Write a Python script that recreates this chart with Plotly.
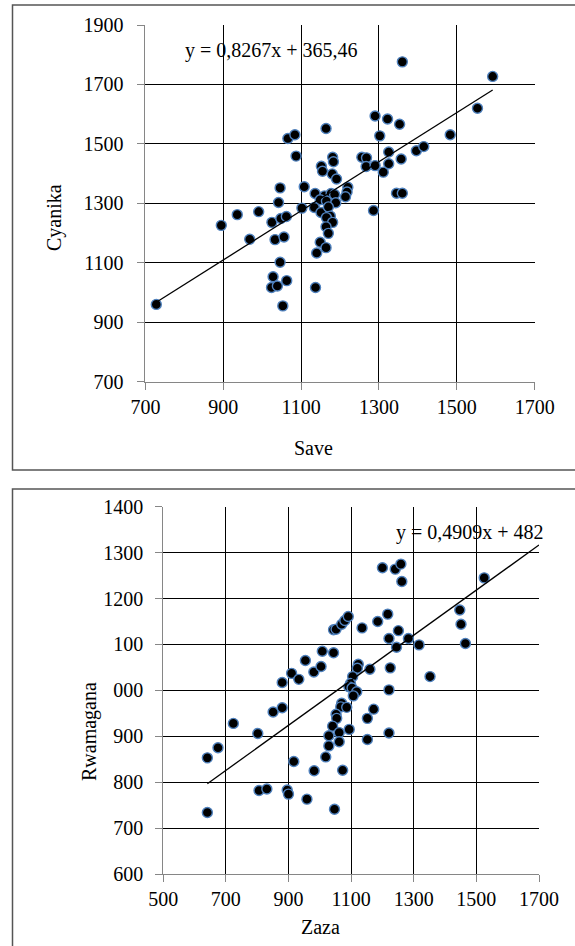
import plotly.graph_objects as go

# ---------------- data ----------------
save_x = [728, 895, 936, 991, 968, 1025, 1033, 1042, 1046, 1048, 1062, 1056, 1046, 1028, 1024,
          1039, 1063, 1053, 1066, 1084, 1087, 1108, 1102, 1164, 1152, 1155, 1181, 1183, 1180, 1191,
          1136, 1160, 1177, 1186, 1149, 1165, 1189, 1134, 1151, 1170, 1175, 1165, 1181, 1164, 1170,
          1149, 1164, 1140, 1137, 1220, 1218, 1214, 1256, 1268, 1267, 1290, 1311, 1325, 1325, 1290,
          1322, 1302, 1353, 1357, 1345, 1360, 1286, 1360, 1396, 1415, 1483, 1553, 1592]
cyanika_y = [960, 1226, 1262, 1272, 1179, 1236, 1178, 1303, 1352, 1249, 1256, 1187, 1102, 1053, 1017,
             1022, 1040, 955, 1518, 1531, 1459, 1356, 1284, 1552, 1425, 1408, 1455, 1440, 1399, 1382,
             1333, 1325, 1333, 1330, 1312, 1308, 1302, 1286, 1269, 1288, 1257, 1252, 1236, 1221, 1199,
             1169, 1151, 1133, 1017, 1354, 1338, 1322, 1455, 1453, 1424, 1427, 1405, 1433, 1473, 1594,
             1584, 1527, 1566, 1449, 1334, 1334, 1276, 1776, 1477, 1491, 1531, 1620, 1727]

zaza_x = [641, 641, 675, 724, 802, 806, 831, 851, 880, 880, 910, 933, 896, 900, 917, 954, 981, 1004,
          1008, 1044, 982, 959, 1047, 1044, 1052, 1070, 1080, 1091, 1135, 1185, 1217, 1200, 1241, 1259,
          1262, 1221, 1251, 1245, 1283, 1317, 1352, 1160, 1225, 1221, 1172, 1152, 1152, 1221, 1447, 1451,
          1465, 1525, 1123, 1120, 1105, 1098, 1093, 1103, 1118, 1107, 1070, 1067, 1086, 1052, 1054, 1041,
          1029, 1062, 1094, 1029, 1062, 1019, 1073]
rwamagana_y = [853, 734, 875, 928, 906, 782, 785, 953, 962, 1017, 1037, 1024, 783, 774, 845, 1065, 1040,
               1052, 1085, 1082, 825, 763, 741, 1132, 1133, 1144, 1152, 1161, 1136, 1150, 1166, 1267, 1264,
               1275, 1237, 1113, 1130, 1094, 1113, 1099, 1030, 1046, 1049, 1001, 959, 939, 893, 907, 1175,
               1144, 1102, 1245, 1057, 1048, 1030, 1015, 1008, 1005, 997, 988, 972, 964, 963, 948, 939, 922,
               901, 908, 915, 879, 888, 855, 826]

# trend lines (from the equations printed on the chart)
top_slope, top_intercept = 0.8267, 365.46
top_trend_x = [728, 1592]
bot_slope, bot_intercept = 0.4909, 482
bot_trend_x = [641, 1700]

top_x_ticks = [700, 900, 1100, 1300, 1500, 1700]
top_y_ticks = [700, 900, 1100, 1300, 1500, 1700, 1900]
bot_x_ticks = [500, 700, 900, 1100, 1300, 1500, 1700]
bot_y_ticks = [600, 700, 800, 900, 1000, 1100, 1200, 1300, 1400]
bot_y_labels = ["600", "700", "800", "900", "000", "100", "1200", "1300", "1400"]

# ---------------- figure ----------------
W, H = 575, 946
FONT = "Liberation Serif, Times New Roman, serif"
FS = 20

def px_x(v):
    return v / W

def px_y(v):
    return 1 - v / H

marker = dict(size=10, color="black", line=dict(color="#4f81bd", width=1.4))

fig = go.Figure()
fig.add_trace(go.Scatter(x=save_x, y=cyanika_y, mode="markers", marker=marker,
                         xaxis="x", yaxis="y", showlegend=False))
fig.add_trace(go.Scatter(x=top_trend_x, y=[top_slope * v + top_intercept for v in top_trend_x],
                         mode="lines", line=dict(color="black", width=1.3),
                         xaxis="x", yaxis="y", showlegend=False))
fig.add_trace(go.Scatter(x=zaza_x, y=rwamagana_y, mode="markers", marker=marker,
                         xaxis="x2", yaxis="y2", showlegend=False))
fig.add_trace(go.Scatter(x=bot_trend_x, y=[bot_slope * v + bot_intercept for v in bot_trend_x],
                         mode="lines", line=dict(color="black", width=1.3),
                         xaxis="x2", yaxis="y2", showlegend=False))

axis_common = dict(showline=True, linecolor="#868686", linewidth=1,
                   ticks="outside", ticklen=7, tickcolor="#868686", tickwidth=1,
                   showgrid=True, gridcolor="black", gridwidth=1.3, zeroline=False,
                   automargin=False,
                   tickfont=dict(family=FONT, size=FS, color="black"))

fig.update_layout(
    template="none",
    width=W, height=H, margin=dict(l=0, r=0, t=0, b=0, pad=0, autoexpand=False),
    paper_bgcolor="white", plot_bgcolor="white",
    xaxis=dict(domain=[px_x(145.4), px_x(534.7)], range=[700, 1700],
               tickvals=top_x_ticks, anchor="y", **axis_common),
    yaxis=dict(domain=[px_y(381.7), px_y(25)], range=[700, 1900],
               tickvals=top_y_ticks, anchor="x", ticklabelstandoff=10, **axis_common),
    xaxis2=dict(domain=[px_x(163.2), px_x(539)], range=[500, 1700],
                tickvals=bot_x_ticks, anchor="y2", **axis_common),
    yaxis2=dict(domain=[px_y(874), px_y(506.7)], range=[600, 1400],
                tickvals=bot_y_ticks, ticktext=bot_y_labels, anchor="x2",
                ticklabelstandoff=8, **axis_common),
)

ann_font = dict(family=FONT, size=FS, color="black")
fig.add_annotation(text="y = 0,8267x + 365,46", x=px_x(271), y=px_y(50), xref="paper", yref="paper",
                   showarrow=False, font=ann_font, xanchor="center", yanchor="middle")
fig.add_annotation(text="y = 0,4909x + 482", x=px_x(470), y=px_y(532), xref="paper", yref="paper",
                   showarrow=False, font=ann_font, xanchor="center", yanchor="middle")
fig.add_annotation(text="Save", x=px_x(313), y=px_y(448), xref="paper", yref="paper",
                   showarrow=False, font=ann_font, xanchor="center", yanchor="middle")
fig.add_annotation(text="Cyanika", x=px_x(54), y=px_y(217), xref="paper", yref="paper",
                   showarrow=False, font=ann_font, xanchor="center", yanchor="middle", textangle=-90)
fig.add_annotation(text="Zaza", x=px_x(320), y=px_y(927), xref="paper", yref="paper",
                   showarrow=False, font=ann_font, xanchor="center", yanchor="middle")
fig.add_annotation(text="Rwamagana", x=px_x(89), y=px_y(732), xref="paper", yref="paper",
                   showarrow=False, font=ann_font, xanchor="center", yanchor="middle", textangle=-90)

# panel frames
box_line = dict(color="#555555", width=1.5)
fig.add_shape(type="rect", xref="paper", yref="paper", x0=px_x(12.5), x1=1.05,
              y0=px_y(470), y1=px_y(5), line=box_line, fillcolor="rgba(0,0,0,0)", layer="below")
fig.add_shape(type="rect", xref="paper", yref="paper", x0=px_x(12.5), x1=1.05,
              y0=-0.05, y1=px_y(489), line=box_line, fillcolor="rgba(0,0,0,0)", layer="below")

fig.write_html("out.html")
